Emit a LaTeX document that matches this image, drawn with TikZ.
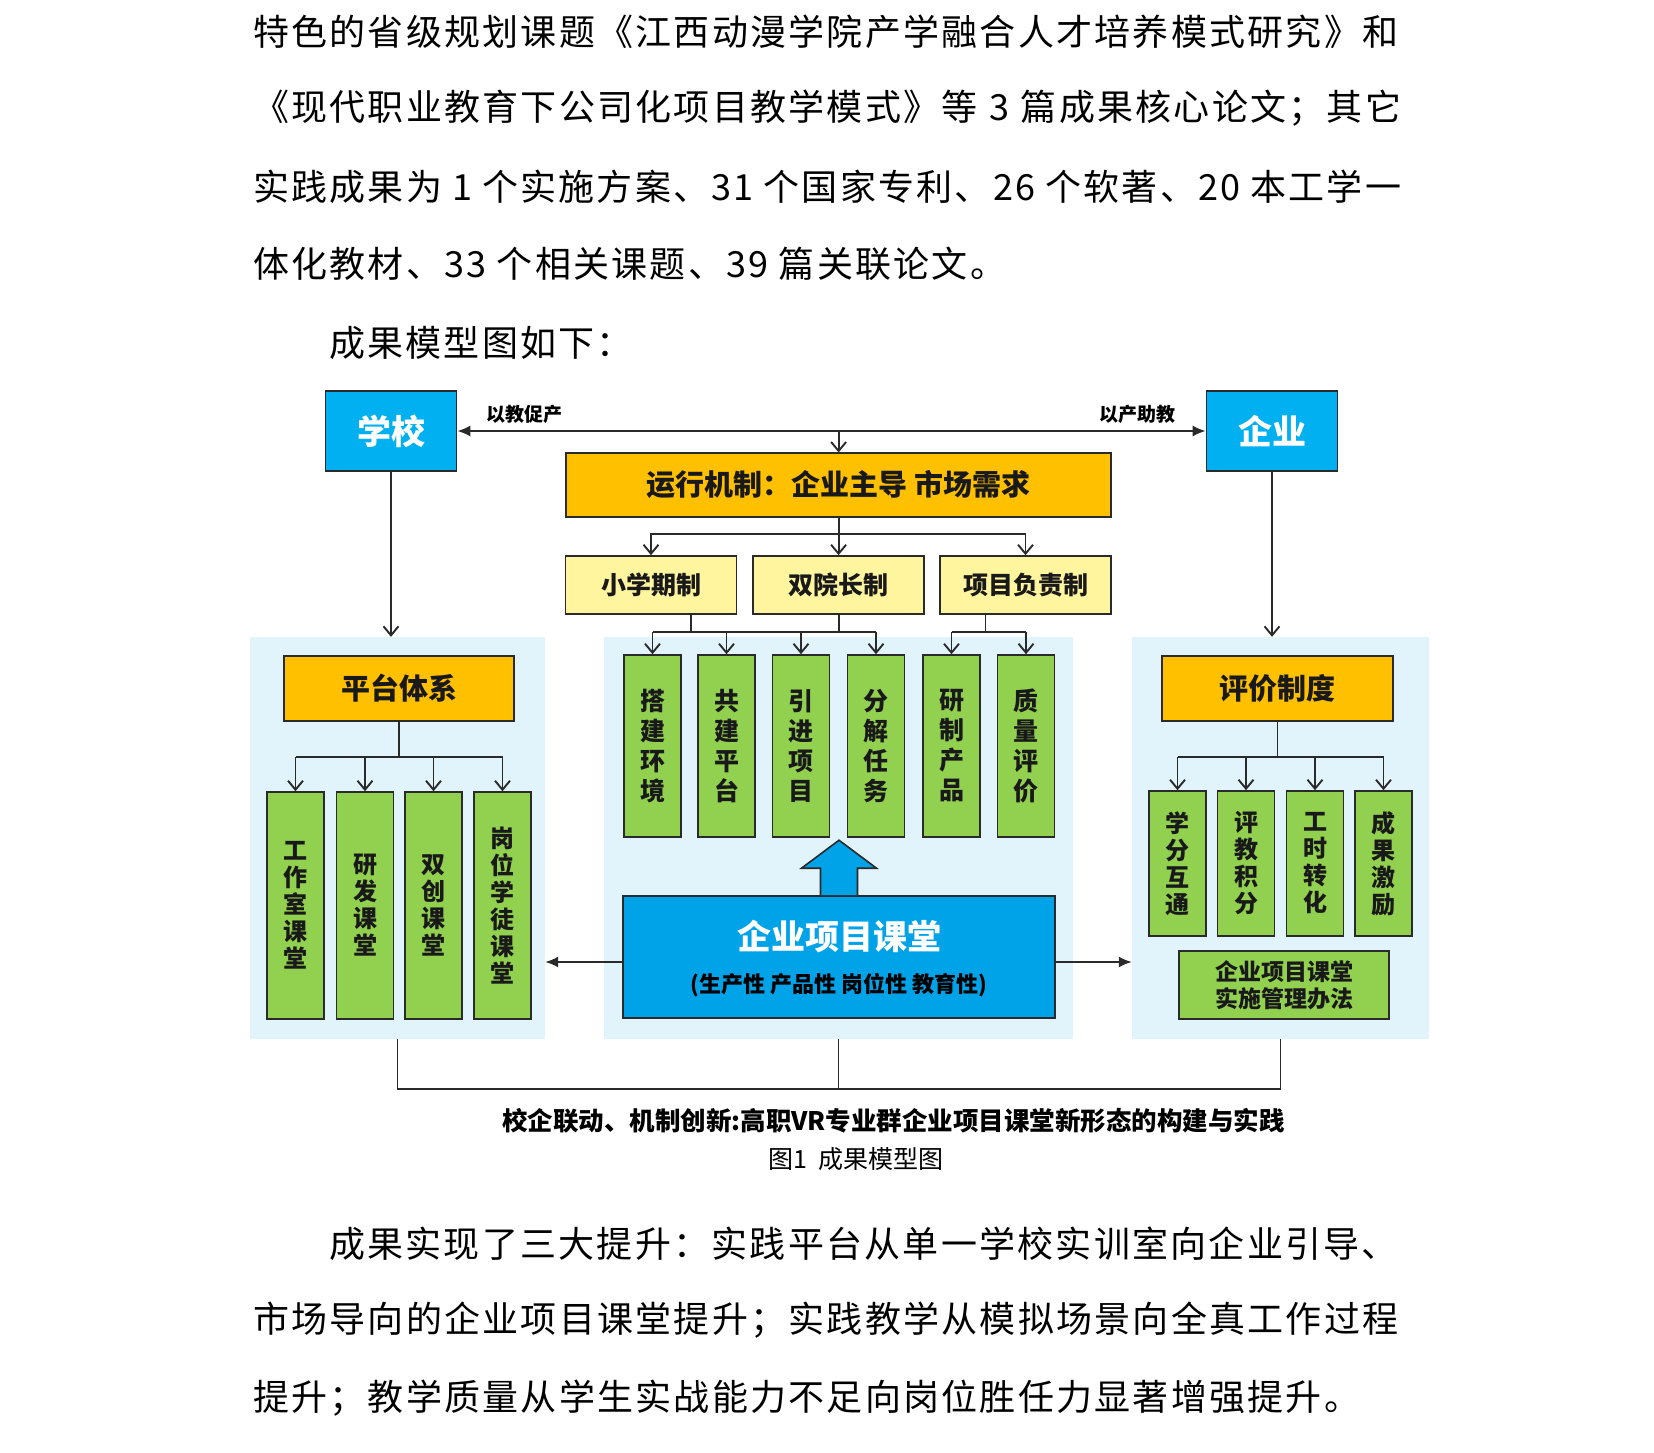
\documentclass[tikz,border=0pt]{standalone}
\usepackage{fontspec}
\setmainfont{Noto Sans CJK SC}
\newfontfamily\bodyfont[LetterSpace=6.25]{Noto Sans CJK SC}
\usetikzlibrary{arrows.meta}

\definecolor{schoolblue}{HTML}{00B0F0}
\definecolor{classblue}{HTML}{00A2E8}
\definecolor{runorange}{HTML}{FFC000}
\definecolor{ruleyellow}{HTML}{FFF59E}
\definecolor{leafgreen}{HTML}{92D050}
\definecolor{panelblue}{HTML}{E2F4FB}
\definecolor{edge}{HTML}{2A2A2A}

\tikzset{
  box/.style={draw=edge, line width=1.6pt, inner sep=0pt, text=black!90, font=\bfseries},
  bluebox/.style={box, fill=schoolblue, text=white, minimum width=131pt, minimum height=80pt,
    font=\bfseries\fontsize{34}{34}\selectfont},
  orangebox/.style={box, fill=runorange, font=\bfseries\fontsize{29}{29}\selectfont},
  yellowbox/.style={box, fill=ruleyellow, minimum width=171pt, minimum height=58pt,
    font=\bfseries\fontsize{25}{25}\selectfont},
  greenbox/.style={box, fill=leafgreen, minimum width=57pt, align=center},
  panel/.style={fill=panelblue, inner sep=0pt},
  smalltag/.style={inner sep=0pt, font=\bfseries\fontsize{19}{19}\selectfont},
  bodyline/.style={inner sep=0pt, anchor=west, font=\bodyfont\fontsize{36}{36}\selectfont},
  openarr/.style={line width=1.9pt, draw=edge, -{Straight Barb[length=9pt,width=15pt]}},
  solidarr/.style={line width=1.9pt, draw=edge, -{Latex[length=13pt,width=11pt]}},
  plain/.style={line width=1.9pt, draw=edge}
}

\begin{document}
\begin{tikzpicture}[x=1pt, y=-1pt]
  \fill[white] (0,0) rectangle (1654,1453);
  \useasboundingbox (0,0) rectangle (1654,1453);

  % text above the figure
  \node[bodyline] (t1) at (253,31.6) {\makebox[1148pt][s]{特色的省级规划课题《江西动漫学院产学融合人才培养模式研究》和}};
  \node[bodyline] (t2) at (253,108.6) {\makebox[1148pt][s]{《现代职业教育下公司化项目教学模式》等 3 篇成果核心论文；其它}};
  \node[bodyline] (t3) at (253,186.7) {\makebox[1148pt][s]{实践成果为 1 个实施方案、31 个国家专利、26 个软著、20 本工学一}};
  \node[bodyline] (t4) at (253,263.7) {体化教材、33 个相关课题、39 篇关联论文。};
  \node[bodyline] (t5) at (329,342.8) {成果模型图如下：};

  % background panels
  \node[panel, minimum width=295pt, minimum height=402pt] (pL) at (397.5,838) {};
  \node[panel, minimum width=469pt, minimum height=402pt] (pM) at (838.5,838) {};
  \node[panel, minimum width=297pt, minimum height=402pt] (pR) at (1280.5,838) {};

  % school and firm
  \node[bluebox] (school) at (391,431) {学校};
  \node[bluebox] (firm) at (1272,431) {企业};
  \draw[line width=1.9pt, draw=edge, {Latex[length=13pt,width=11pt]}-{Latex[length=13pt,width=11pt]}] (school.east) -- (firm.west);
  \node[smalltag] (tagL) at (524,414) {以教促产};
  \node[smalltag] (tagR) at (1137,414) {以产助教};

  % running mechanism
  \node[orangebox, minimum width=545pt, minimum height=63.5pt] (run) at (838.6,485) {运行机制：企业主导 市场需求};
  \draw[openarr] (run.north |- school.east) -- (run.north);
  \node[yellowbox] (xq) at (651,585) {小学期制};
  \node[yellowbox] (sy) at (838.6,585) {双院长制};
  \node[yellowbox] (xm) at (1025.5,585) {项目负责制};
  \draw[openarr] (run.south) -- (sy.north);
  \draw[openarr] (run.south) -- ++(0,16) -| (xq.north);
  \draw[openarr] (run.south) -- ++(0,16) -| (xm.north);

  % middle steps
  \foreach \n/\x/\txt in {m1/652.5/搭\\建\\环\\境, m2/726.5/共\\建\\平\\台, m3/801/引\\进\\项\\目,
                         m4/876/分\\解\\任\\务, m5/951.5/研\\制\\产\\品, m6/1026/质\\量\\评\\价}
    \node[greenbox, minimum height=182pt, font=\bfseries\fontsize{25}{30}\selectfont] (\n) at (\x,746) {\txt};
  \coordinate (bus) at (0,632);
  \draw[plain] ([xshift=40pt]xq.south) -- ([xshift=40pt]xq.south |- bus);
  \draw[plain] (sy.south) -- (sy.south |- bus);
  \draw[plain] ([xshift=-40pt]xm.south) -- ([xshift=-40pt]xm.south |- bus);
  \draw[plain] (m1.north |- bus) -- (m4.north |- bus);
  \draw[plain] (m5.north |- bus) -- (m6.north |- bus);
  \foreach \n in {m1,m2,m3,m4,m5,m6}
    \draw[openarr] (\n.north |- bus) -- (\n.north);

  % enterprise project class
  \node[box, fill=classblue, minimum width=432pt, minimum height=122pt] (cls) at (839,957) {};
  \node[inner sep=0pt, text=white, font=\bfseries\fontsize{34}{34}\selectfont] (clsT) at ([yshift=20pt]cls.center) {企业项目课堂};
  \node[inner sep=0pt, font=\bfseries\fontsize{22}{22}\selectfont] (clsS) at ([yshift=-28pt]cls.center) {(生产性 产品性 岗位性 教育性)};
  \draw[draw=edge, line width=1.6pt, fill=classblue] ([xshift=-18.5pt]cls.north) -- ++(0,-27) -- ++(-19,0)
    -- ++(37.5,-28) -- ++(37.5,28) -- ++(-19,0) -- ++(0,27);
  \coordinate (side) at (0,962);
  \draw[solidarr] (cls.west |- side) -- (pL.east |- side);
  \draw[solidarr] (cls.east |- side) -- (pR.west |- side);

  % platform system
  \draw[openarr] (school.south) -- (school.south |- pL.north);
  \node[orangebox, minimum width=230pt, minimum height=65pt] (ptx) at (399,688.5) {平台体系};
  \foreach \n/\x/\txt in {l1/295.5/工\\作\\室\\课\\堂, l2/365/研\\发\\课\\堂,
                         l3/433.5/双\\创\\课\\堂, l4/502.5/岗\\位\\学\\徒\\课\\堂}
    \node[greenbox, minimum height=227pt, font=\bfseries\fontsize{24}{27}\selectfont] (\n) at (\x,905.5) {\txt};
  \draw[plain] (ptx.south) -- ++(0,35) coordinate (lbus);
  \draw[plain] (l1.north |- lbus) -- (l4.north |- lbus);
  \foreach \n in {l1,l2,l3,l4}
    \draw[openarr] (\n.north |- lbus) -- (\n.north);

  % evaluation system
  \draw[openarr] (firm.south) -- (firm.south |- pR.north);
  \node[orangebox, minimum width=231pt, minimum height=65pt] (pjz) at (1277.5,688.5) {评价制度};
  \foreach \n/\x/\txt in {r1/1177.5/学\\分\\互\\通, r2/1246/评\\教\\积\\分,
                         r3/1315/工\\时\\转\\化, r4/1383.5/成\\果\\激\\励}
    \node[greenbox, minimum height=145pt, font=\bfseries\fontsize{24}{27}\selectfont] (\n) at (\x,863.5) {\txt};
  \draw[plain] (pjz.south) -- ++(0,35) coordinate (rbus);
  \draw[plain] (r1.north |- rbus) -- (r4.north |- rbus);
  \foreach \n in {r1,r2,r3,r4}
    \draw[openarr] (\n.north |- rbus) -- (\n.north);
  \node[greenbox, minimum width=210pt, minimum height=68pt, font=\bfseries\fontsize{23}{27}\selectfont] (rb) at (1284,985) {企业项目课堂\\实施管理办法};

  % bottom bracket and caption
  \draw[plain] (pL.south) -- ++(0,49.5) coordinate (bl) -- (bl -| pR.south) -- (pR.south);
  \draw[plain] (pM.south) -- (pM.south |- bl);
  \node[inner sep=0pt, font=\bfseries\fontsize{25.5}{25.5}\selectfont] (cap) at (893.5,1121) {校企联动、机制创新:高职VR专业群企业项目课堂新形态的构建与实践};
  \node[inner sep=0pt, font=\fontsize{25}{25}\selectfont] (fig) at (856,1159) {图1\ \ 成果模型图};

  % text below the figure
  \node[bodyline] (b1) at (329,1243.6) {成果实现了三大提升：实践平台从单一学校实训室向企业引导、};
  \node[bodyline] (b2) at (253,1319.6) {市场导向的企业项目课堂提升；实践教学从模拟场景向全真工作过程};
  \node[bodyline] (b3) at (253,1397.6) {提升；教学质量从学生实战能力不足向岗位胜任力显著增强提升。};
\end{tikzpicture}
\end{document}
